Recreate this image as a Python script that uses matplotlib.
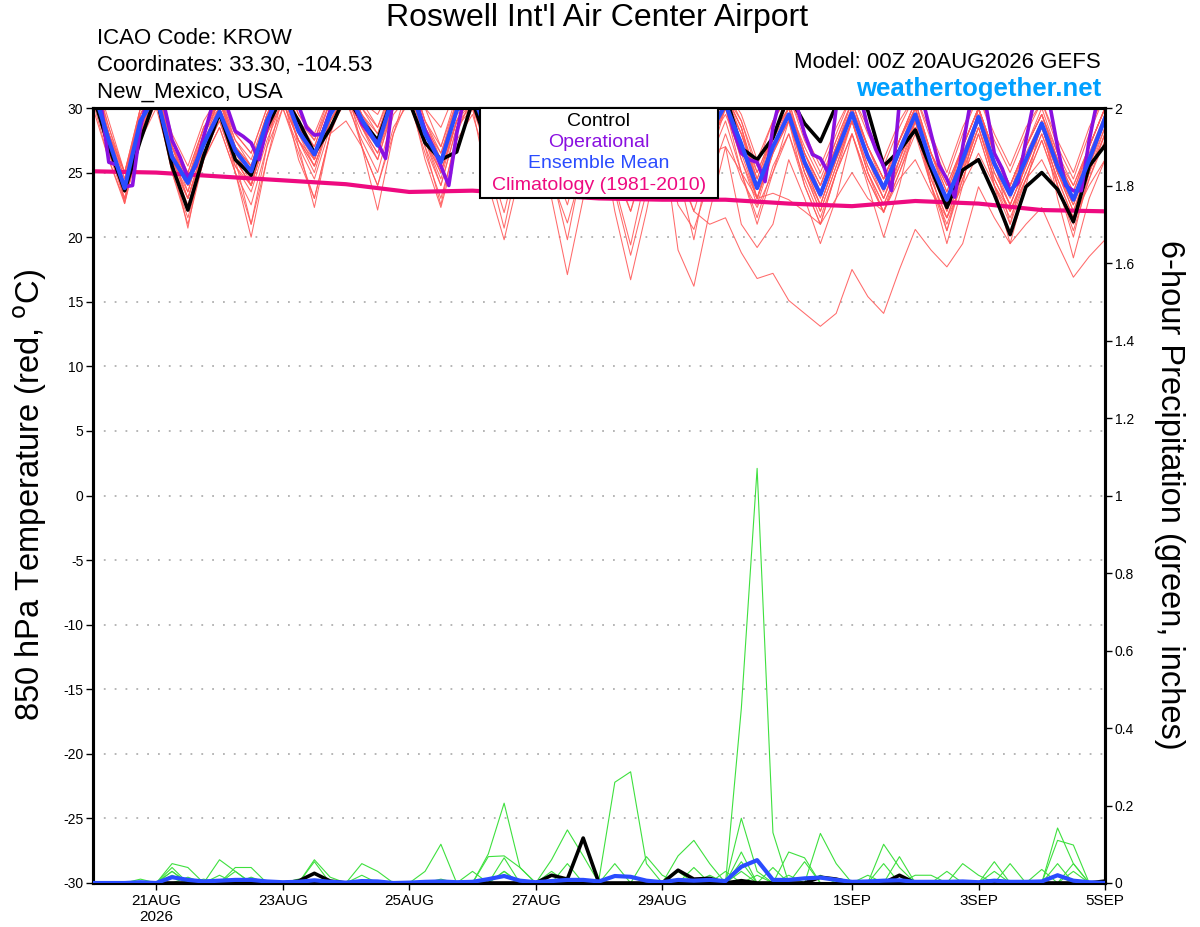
import numpy as np
import pandas as pd
import matplotlib
matplotlib.use('Agg')
import matplotlib.pyplot as plt
from matplotlib.patches import Rectangle
from matplotlib.ticker import FuncFormatter, MultipleLocator

plt.rcParams['font.family'] = ['Liberation Sans', 'DejaVu Sans']
plt.rcParams['axes.unicode_minus'] = False

# ---------------- data ----------------
start = '2026-08-20 00:00'
times6 = pd.date_range(start, periods=65, freq='6h')
times3 = pd.date_range(start, periods=129, freq='3h')
clim_days = pd.date_range(start, periods=17, freq='1D')

ens_mean_t = [
    31.5, 27.5, 23.8, 29.0,  31.0, 26.2, 24.2, 27.2,  29.7, 26.7, 25.1, 29.0,
    31.5, 28.2, 26.4, 29.5,  31.5, 29.1, 27.1, 31.0,  32.0, 28.0, 25.8, 29.8,
    31.0, 28.0, 25.0, 28.5,  31.0, 28.0, 25.0, 28.5,  31.0, 27.5, 24.5, 28.0,
    31.0, 27.5, 24.5, 28.0,  30.3, 27.2, 23.8, 27.0,  29.5, 25.8, 23.3, 26.5,
    29.6, 26.2, 23.8, 26.7,  29.5, 25.7, 22.9, 26.0,  29.3, 25.7, 23.3, 26.0,
    28.8, 25.5, 22.9, 26.0,  29.2]

control_t = [
    31.0, 27.0, 23.6, 27.5,  31.0, 25.5, 22.1, 26.3,  29.6, 26.0, 24.8, 28.5,
    31.0, 29.0, 26.5, 28.4,  31.0, 29.0, 27.5, 31.0,  30.5, 27.3, 26.0, 26.6,
    30.5, 27.0, 25.0, 28.0,  31.0, 27.5, 25.0, 28.0,  31.0, 27.5, 25.0, 28.0,
    31.0, 28.0, 25.5, 29.0,  31.0, 26.9, 26.0, 27.7,  31.0, 28.8, 27.4, 30.2,
    31.5, 29.8, 25.5, 26.7,  28.3, 25.3, 22.3, 25.2,  26.0, 23.3, 20.2, 23.9,
    25.0, 23.7, 21.2, 25.5,  27.1]

operational_t = [  # 3-hourly
    31.0, 30.3, 25.8, 25.6, 23.9, 24.0, 28.5, 31.0,
    31.5, 30.2, 27.5, 26.2, 24.6, 25.5, 27.8, 30.0,
    31.0, 30.0, 28.2, 27.8, 27.3, 26.0, 28.5, 31.0,
    31.0, 31.0, 30.2, 28.5, 27.9, 28.0, 29.8, 31.0,
    31.5, 30.3, 28.8, 28.0, 27.3, 26.1, 31.0, 31.5,
    31.0, 30.2, 28.3, 27.0, 25.5, 24.0, 28.0, 31.0,
    31.0, 30.0, 28.0, 27.0, 26.0, 26.5, 29.0, 31.0,
    31.5, 30.0, 28.0, 27.0, 26.0, 26.0, 28.5, 31.0,
    31.5, 30.0, 28.0, 27.0, 26.0, 26.5, 29.0, 31.0,
    31.5, 30.0, 28.0, 27.0, 26.0, 26.5, 29.0, 31.0,
    30.5, 28.3, 26.5, 26.0, 25.8, 24.3, 28.5, 31.0,
    31.5, 30.2, 28.0, 26.4, 26.1, 25.0, 30.0, 31.5,
    31.5, 31.0, 28.5, 26.8, 25.5, 23.6, 30.5, 31.5,
    31.5, 30.5, 28.0, 25.6, 24.5, 23.1, 27.0, 30.5,
    31.5, 30.0, 26.5, 25.3, 23.6, 24.2, 27.5, 30.5,
    31.5, 30.3, 27.0, 24.0, 23.6, 23.6, 27.5, 30.5,
    31.0]

climatology_t = [25.1, 25.0, 24.7, 24.4, 24.1, 23.5, 23.6, 23.3, 23.0,
                 22.9, 22.9, 22.6, 22.4, 22.8, 22.6, 22.1, 22.0]

member_t = [
    [32, 28, 25, 29, 32, 27, 23.5, 28, 31, 27, 24, 28.5, 32, 29, 26, 29.5,
     32, 29, 27, 30, 32, 28, 25, 29, 32, 27, 24, 28, 31, 26, 23, 27,
     30, 25, 22, 26, 29, 25, 22, 21, 21.5, 18.8, 16.8, 17.2, 15.1, 14.1, 13.1, 14.1,
     17.5, 15.4, 14.1, 17.5, 20.6, 19, 17.7, 19.5, 23.9, 21.5, 19.5, 21, 22.3, 19.5, 16.9, 18.5,
     19.8],
    [31, 27, 24, 28, 31, 25, 21, 26, 30, 25, 20, 26, 31, 26, 23, 28,
     31, 27, 24, 28, 31, 26, 22.3, 27, 30, 24, 19.8, 25, 30, 23, 17.1, 23,
     29, 22, 16.7, 22, 28, 19, 16.2, 22, 27, 21, 19.2, 21, 26, 23, 19.5, 23,
     28, 24, 20, 24, 29, 24, 19.5, 24, 30, 24, 19.5, 24, 29, 23, 18.4, 23,
     26],
    [33, 28, 22.6, 28, 32, 26, 20.7, 27, 31, 26, 21, 27, 32, 27, 22.3, 28,
     32, 27, 22.1, 28, 32, 27, 22.5, 28, 31, 26, 21.9, 27, 31, 25, 19.8, 26,
     30, 24, 19.4, 25, 30, 25, 19.8, 26, 30, 25, 21, 25, 29, 24, 21, 25,
     29, 25, 21.9, 26, 30, 25, 20.5, 25, 30, 26, 21, 26, 29, 24, 20, 25,
     28],
    [32, 28, 24, 29.5, 32, 27, 24.5, 28, 31, 27.5, 25.5, 29.5, 32, 29, 27, 30.5,
     32, 30, 28, 31.5, 33, 29, 26.5, 30, 32, 28.5, 25.5, 29, 31.5, 28, 25, 28.5,
     31, 27.5, 24, 28, 31, 28, 25, 28.5, 31, 28, 24.5, 28, 30, 26.5, 24, 27,
     30, 27, 24.5, 27.5, 30.5, 26.5, 23.5, 27, 30, 26.5, 24, 27, 29.5, 26, 23.5, 27,
     30],
    [31, 26.5, 23, 28, 31.5, 26, 23, 27, 30, 26, 24, 28.5, 31, 27.5, 25.5, 29,
     31.5, 28.5, 26.5, 30.5, 32, 27.5, 25, 29, 31, 27, 24, 28, 30.5, 26.5, 23.5, 27.5,
     30.5, 26.5, 23, 27, 30, 26.5, 23, 27, 30, 26, 22.5, 26.5, 29, 25, 22.5, 26,
     29, 25.5, 23, 26, 29, 25, 22, 25.5, 29, 25, 22.5, 25.5, 28.5, 25, 22, 25.5,
     28.5],
    [33, 29, 25, 30, 32.5, 28, 25.5, 29, 31, 28, 26.5, 30, 32.5, 29.5, 27.5, 31,
     33, 30.5, 28.5, 32, 33, 30, 27, 31, 32, 29, 26.5, 30, 32, 29, 26, 30,
     32, 28.5, 25.5, 29.5, 32, 29, 26, 29.5, 31.5, 29, 25.5, 29, 31, 27.5, 25, 28,
     31, 28, 25.5, 28.5, 31, 27.5, 24.5, 28, 31, 27.5, 25, 28, 30.5, 27, 24.5, 28,
     31],
    [32, 27.5, 23.5, 29, 31, 26, 23.5, 27.5, 29.5, 26.5, 24.5, 28.5, 31, 28, 26, 29.5,
     31.5, 29, 27, 31, 32, 28, 25.5, 29.5, 30.5, 27, 24.5, 28, 30.5, 27, 24, 28,
     30.5, 27, 23.5, 27.5, 30, 27, 23.5, 27.5, 30, 26, 23, 27, 29, 25.5, 22.5, 26,
     29, 25.5, 23, 26, 29, 25, 22.5, 25.5, 28.5, 25, 22.5, 25.5, 28.5, 25, 22.5, 25.5,
     29],
    [31.5, 27, 23.5, 28.5, 31, 25.5, 22.5, 26.5, 29, 25.5, 23.5, 27.5, 30.5, 27.5, 25, 29,
     31, 28, 26, 30, 31.5, 27.5, 24.5, 29, 31, 27.5, 24.5, 28.5, 31, 27.5, 24.5, 28.5,
     31, 27.5, 24, 28, 31, 27.5, 24, 28, 30.5, 28, 24, 27, 30, 25.5, 23, 26.5,
     29.5, 26, 23.5, 26.5, 29.5, 25.5, 22.5, 26, 29, 25.5, 23, 26, 29, 25, 22.5, 26,
     29.5],
    [32.5, 28.5, 25, 30, 32, 27.5, 25, 28.5, 30.5, 27.5, 26, 29.5, 32, 29, 27.5, 30.5,
     32, 30, 28.5, 31.5, 32.5, 29, 27, 30.5, 31.5, 28.5, 26, 29.5, 31.5, 28.5, 26, 29.5,
     31.5, 28.5, 25.5, 29, 31.5, 28.5, 25.5, 29, 31, 29, 25, 28, 30, 26.5, 24, 27,
     30, 27, 24.5, 27.5, 30, 26.5, 24, 27, 30, 26.5, 24, 27, 29.5, 26, 24, 27,
     30],
    [30.5, 26, 22.6, 27.5, 30.5, 25, 21.5, 26, 28.5, 25, 22.5, 27, 30, 27, 24.5, 28.5,
     30.5, 27.5, 25, 29.5, 31, 27, 24, 28.5, 30, 26.5, 23.5, 27.5, 30, 26, 22.5, 27,
     29.5, 25.5, 22, 26.5, 29.5, 25.5, 22, 26, 29, 25, 21.5, 25.5, 28, 24.5, 21.5, 25,
     28, 24.5, 22, 25, 28, 24, 21, 24.5, 28, 24, 21.5, 24.5, 27.5, 24, 21, 24.5,
     28],
    [33, 28.5, 24.5, 30, 32, 27, 24, 28, 30, 27, 25, 29.5, 31.5, 28.5, 26.5, 30,
     32, 29.5, 27.5, 31, 32.5, 28.5, 26, 30, 31.5, 28, 25.5, 29, 31.5, 28, 25, 29,
     31, 28, 24.5, 28.5, 31, 28, 25, 28.5, 31, 28.5, 24, 27.5, 30, 26, 23.5, 27,
     30, 26.5, 24, 27, 30, 26, 23, 26.5, 29.5, 26, 23.5, 26.5, 29, 26, 23, 26.5,
     29.5],
    [31, 27, 23, 28.5, 31.5, 26.5, 24, 27.5, 30, 27, 25.5, 29, 31.5, 28.5, 26.5, 30,
     32, 29.5, 28, 31.5, 32.5, 28.5, 25.5, 30, 31, 28, 25, 28.5, 31, 27.5, 25, 28.5,
     31, 27.5, 24.5, 28, 31, 27.5, 24.5, 28, 30, 27.5, 23, 27, 29.5, 25.5, 22.5, 26,
     29.5, 26, 23, 26.5, 29, 25.5, 22, 25.5, 29, 25.5, 22.5, 25.5, 28.5, 25, 22, 25.5,
     29],
    [32, 28, 24.5, 29.5, 31.5, 27, 25, 28.5, 30.5, 28, 26.5, 30, 32.5, 29.5, 28, 31,
     33, 30.5, 29.5, 32, 33, 30, 28.5, 31.5, 32, 29.5, 27, 30.5, 32, 29, 26.5, 30,
     32, 29, 26, 30, 32, 29, 26.5, 30, 31.5, 29.5, 26, 29, 31, 28, 25.5, 28.5,
     31, 28.5, 26, 29, 31, 28, 25, 28.5, 31, 28, 25.5, 28.5, 30.5, 27.5, 25, 28.5,
     31],
    [31.5, 27, 24, 29, 31, 26.5, 23, 27, 29.5, 26, 24, 28, 31, 28, 25.5, 29,
     31, 28.5, 26.5, 30, 31.5, 27.5, 24, 28.5, 30.5, 27, 23, 27.5, 30.5, 27, 23.5, 27.5,
     30, 26.5, 23, 27, 30, 26.5, 23, 27, 30, 27, 23, 26.5, 29.5, 25, 22, 25.5,
     29, 25, 22.5, 25.5, 29, 24.5, 21.5, 25, 28.5, 24.5, 22, 25, 28, 24.5, 21.5, 25,
     28.5],
    [32, 27.5, 24, 29.5, 31.5, 26.5, 24.5, 28, 30.5, 27, 25.5, 29.5, 32, 28.5, 27, 30.5,
     32.5, 29.5, 27.5, 31.5, 33, 29, 26, 30.5, 32, 28.5, 25.5, 29.5, 31.5, 28.5, 25.5, 29.5,
     31.5, 28, 25, 29, 31.5, 28, 25, 29, 31, 28.5, 24.5, 28, 30.5, 26.5, 24, 27.5,
     30.5, 27, 24.5, 27.5, 30.5, 26.5, 23.5, 27, 30, 26.5, 24, 27, 29.5, 26, 23.5, 27,
     30],
    [31, 26.5, 23.5, 28, 30.5, 25.5, 23, 26.5, 29, 25.5, 24, 28, 30.5, 27.5, 25.5, 29,
     31, 28.5, 26, 30, 31.5, 27.5, 25, 29, 30.5, 27, 24, 28, 30, 26.5, 24, 27.5,
     30, 26.5, 23.5, 27.5, 30, 26.5, 23.5, 27.5, 29.5, 26.5, 23, 26.5, 29, 25, 22, 25.5,
     29, 25, 22.5, 25.5, 28.5, 24.5, 21.5, 25, 28.5, 24.5, 22, 25, 28, 24.5, 21.5, 25,
     28],
    [32.5, 28, 24, 29.5, 32, 27, 24, 28, 30.5, 27, 25, 29, 32, 28.5, 26, 30,
     32, 29, 27, 31, 32.5, 28.5, 26, 30, 31.5, 28, 25.5, 29, 31.5, 28, 25, 29,
     31.5, 28, 24.5, 28.5, 31.5, 28, 24.5, 28.5, 31, 28.5, 24, 28, 30.5, 26.5, 23.5, 27,
     30.5, 27, 24, 27.5, 30.5, 26.5, 23, 27, 30, 26.5, 23.5, 27, 30, 26.5, 23, 27,
     30],
    [31, 27, 23.5, 28, 30.5, 26, 23, 27, 29.5, 26, 24, 28, 30.5, 27.5, 26, 29,
     31, 28.5, 27, 30, 31, 28, 25.5, 29, 30, 27, 25, 28, 29.5, 26.5, 24.5, 27.5,
     29, 26, 24, 27, 28.5, 26, 23.5, 26.5, 27, 25, 23, 23.4, 22.9, 22, 21, 23,
     25, 23, 22, 24.5, 26, 23.5, 21.5, 24, 26.5, 24, 22, 24.5, 26, 23.5, 21.5, 24,
     26],
    [32, 28, 25, 29.5, 31.5, 27, 24.5, 28.5, 30, 27, 25.5, 29, 31.5, 28.5, 26.5, 30,
     32, 29, 27.5, 31, 32, 28.5, 26.5, 30.5, 31, 28, 25.5, 29, 31, 28, 25.5, 29,
     31, 27.5, 25, 28.5, 31, 27.5, 25, 28.5, 30.5, 28, 25, 28, 30, 27, 24.5, 27.5,
     30.5, 27, 24.5, 27.5, 30, 26.5, 24, 27, 30, 26.5, 24, 27, 29.5, 26.5, 24, 27,
     30],
    [30, 26, 22.8, 27.5, 30, 25.5, 22, 26, 28.5, 25, 21, 26, 30, 26.5, 23, 28,
     29, 27, 24, 28.5, 30.5, 26.5, 23, 27.5, 29.5, 25.5, 20.7, 26.5, 29, 24.5, 21.1, 25.5,
     28, 23.5, 18.6, 23.5, 27.5, 22.5, 20.6, 24.5, 28, 24.5, 22.3, 25, 28, 24, 21, 25,
     28, 24.5, 21.9, 25, 28.5, 24, 20.5, 24.5, 28, 24, 21, 24.5, 27.5, 24, 20.5, 24.5,
     27.5],
]

control_p = [0] * 13 + [0.005, 0.025, 0.005] + [0] * 13 + [0.02, 0.01, 0.116, 0.0,
             0.0, 0.0, 0.0, 0.0, 0.033, 0.01, 0.012, 0.0, 0.006, 0.0, 0.0, 0.0,
             0.0, 0.015, 0.01, 0.0, 0.0, 0.0, 0.02, 0.0, 0.0, 0.0, 0.0, 0.0,
             0.0, 0.0, 0.0, 0.0, 0.0, 0.0, 0.0, 0.005]

ens_mean_p = [0, 0, 0, 0.002, 0, 0.015, 0.008, 0.004, 0.006, 0.008, 0.008, 0.004,
              0.002, 0.003, 0.007, 0.003, 0.001, 0.005, 0.004, 0, 0.001, 0.003, 0.004, 0.002,
              0.003, 0.01, 0.018, 0.006, 0.002, 0.005, 0.008, 0.008, 0.004, 0.018, 0.016, 0.006,
              0.002, 0.008, 0.006, 0.008, 0.005, 0.042, 0.059, 0.008, 0.008, 0.012, 0.014, 0.008,
              0.003, 0.004, 0.006, 0.007, 0.003, 0.003, 0.003, 0.004, 0.002, 0.006, 0.003, 0.003,
              0.004, 0.02, 0.006, 0.002, 0.0]

member_p = [  # nonzero 6-hour totals per member {step: inches}
    {26: 0.03, 41: 0.45, 42: 1.07, 43: 0.13},
    {5: 0.05, 6: 0.04, 32: 0.01, 33: 0.26, 34: 0.287, 35: 0.05, 61: 0.05},
    {8: 0.06, 9: 0.03, 25: 0.075, 26: 0.206, 27: 0.04, 41: 0.055},
    {5: 0.04, 21: 0.03, 22: 0.1, 37: 0.07, 38: 0.11, 39: 0.05, 62: 0.03},
    {14: 0.06, 15: 0.015, 29: 0.06, 30: 0.137, 31: 0.07, 46: 0.128, 47: 0.05, 61: 0.142, 62: 0.05},
    {9: 0.04, 10: 0.04, 35: 0.068, 36: 0.02, 41: 0.167, 42: 0.03, 50: 0.1, 51: 0.04, 61: 0.11, 62: 0.098},
    {5: 0.03, 17: 0.05, 18: 0.03, 25: 0.068, 26: 0.07, 27: 0.04, 44: 0.08, 45: 0.065, 55: 0.05, 56: 0.02},
    {3: 0.01, 10: 0.015, 14: 0.055, 26: 0.065, 29: 0.03, 41: 0.08, 43: 0.04, 51: 0.068, 57: 0.055},
    {6: 0.015, 9: 0.03, 24: 0.03, 30: 0.05, 33: 0.05, 40: 0.03, 45: 0.055, 49: 0.02, 58: 0.05, 60: 0.035},
    {5: 0.03, 7: 0.01, 11: 0.005, 26: 0.03, 39: 0.02, 42: 0.02, 50: 0.05, 54: 0.03, 57: 0.03},
    {13: 0.01, 17: 0.02, 37: 0.03, 44: 0.02, 52: 0.02, 53: 0.02, 61: 0.02},
    {5: 0.02, 8: 0.02, 22: 0.01, 38: 0.04, 41: 0.03, 46: 0.02, 62: 0.05},
]

tick_dates = ['2026-08-21', '2026-08-23', '2026-08-25', '2026-08-27',
              '2026-08-29', '2026-09-01', '2026-09-03', '2026-09-05']
tick_labels = ['21AUG\n2026', '23AUG', '25AUG', '27AUG', '29AUG', '1SEP', '3SEP', '5SEP']

legend_labels = ['Control', 'Operational', 'Ensemble Mean', 'Climatology (1981-2010)']

# ---------------- style ----------------
C_RED = '#FF5a5a'
C_GREEN = '#3ee03e'
C_BLACK = '#000000'
C_PURPLE = '#8a10e0'
C_BLUE = '#2a4cff'
C_PINK = '#ee0a80'
legend_colors = [C_BLACK, C_PURPLE, C_BLUE, C_PINK]

W, H = 1200, 927
fig = plt.figure(figsize=(W / 100, H / 100), dpi=100)
ax = fig.add_axes([93 / W, 1 - 883 / H, 1012 / W, 775 / H])
ax2 = ax.twinx()

for m in member_t:
    ax.plot(times6, m, color=C_RED, lw=0.75, alpha=0.9, zorder=2)
ax.plot(clim_days, climatology_t, color=C_PINK, lw=3.0, zorder=3)
ax.plot(times6, control_t, color=C_BLACK, lw=2.6, zorder=4)
ax.plot(times3, operational_t, color=C_PURPLE, lw=2.6, zorder=5)
ax.plot(times6, ens_mean_t, color=C_BLUE, lw=3.0, zorder=6)

for mp in member_p:
    vals = np.zeros(len(times6))
    for k, v in mp.items():
        vals[k] = v
    ax2.plot(times6, vals, color=C_GREEN, lw=0.8, zorder=2)
ax2.plot(times6, control_p, color=C_BLACK, lw=2.6, zorder=4)
ax2.plot(times6, ens_mean_p, color=C_BLUE, lw=3.0, zorder=5)

ax.set_xlim(pd.Timestamp('2026-08-20'), pd.Timestamp('2026-09-05'))
ax.set_ylim(-30, 30)
ax2.set_ylim(0, 2)

ax.yaxis.set_major_locator(MultipleLocator(5))
ax2.yaxis.set_major_locator(MultipleLocator(0.2))
ax2.yaxis.set_major_formatter(FuncFormatter(lambda v, p: '%g' % round(v, 1)))
ax.set_xticks(pd.to_datetime(tick_dates))
ax.set_xticklabels(tick_labels, fontsize=11)
ax.tick_params(axis='x', length=5, width=1, pad=3)
ax.tick_params(axis='y', labelsize=10, length=5, width=1, pad=2)
ax2.tick_params(axis='y', labelsize=10, length=5, width=1, pad=2)
for lbl in ax.get_xticklabels():
    lbl.set_multialignment('center')

ax.yaxis.grid(True, color='#b0b0b0', lw=1.3, linestyle=(0, (1, 5)))
ax.set_axisbelow(True)
for a in (ax, ax2):
    for s in a.spines.values():
        s.set_linewidth(2.2)

# legend box (centred text lines, as in the reference)
box = Rectangle((480 / W, 1 - 198 / H), 238 / W, 90 / H, transform=fig.transFigure,
                facecolor='white', edgecolor='black', lw=1.5, zorder=10)
fig.add_artist(box)
for k, (lab, col) in enumerate(zip(legend_labels, legend_colors)):
    fig.text(599 / W, 1 - (121 + 21.5 * k) / H, lab, color=col, ha='center', va='center',
             fontsize=14, zorder=11)

fig.text(597 / W, 1 - 18 / H, "Roswell Int'l Air Center Airport", ha='center', va='center', fontsize=23)
fig.text(97 / W, 1 - 39 / H, 'ICAO Code: KROW', ha='left', va='center', fontsize=16)
fig.text(97 / W, 1 - 66 / H, 'Coordinates: 33.30, -104.53', ha='left', va='center', fontsize=16)
fig.text(97 / W, 1 - 92 / H, 'New_Mexico, USA', ha='left', va='center', fontsize=16)
fig.text(1101 / W, 1 - 63 / H, 'Model: 00Z 20AUG2026 GEFS', ha='right', va='center', fontsize=16)
fig.text(1101 / W, 1 - 89 / H, 'weathertogether.net', ha='right', va='center', fontsize=18.5,
         fontweight='bold', color='#00a0ff')
fig.text(30 / W, 1 - 495 / H, r'850 hPa Temperature (red, $^{\mathrm{o}}$C)', rotation=90,
         ha='center', va='center', fontsize=23.5)
fig.text(1170 / W, 1 - 495 / H, '6-hour Precipitation (green, inches)', rotation=270,
         ha='center', va='center', fontsize=23.5)

fig.savefig('out.png', dpi=100)
